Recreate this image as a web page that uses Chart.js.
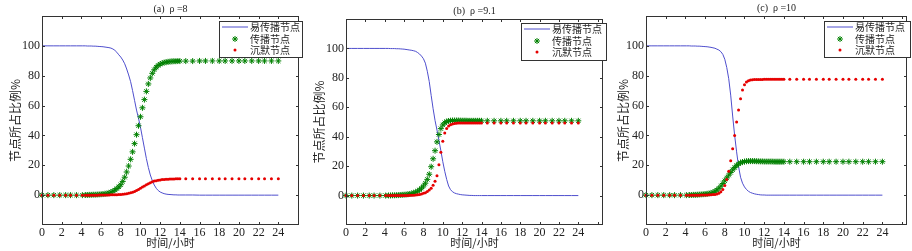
<!DOCTYPE html>
<html>
<head>
<meta charset="utf-8">
<script src="https://cdn.jsdelivr.net/npm/chart.js@4.4.1/dist/chart.umd.min.js"></script>
<style>
html, body { margin: 0; padding: 0; background: #fff; }
#wrap { position: relative; width: 912px; height: 251px; overflow: hidden; }
canvas { position: absolute; top: 0; }
</style>
</head>
<body>
<div id="wrap">
<canvas id="pa" width="304" height="251" style="left:0px"></canvas>
<canvas id="pb" width="304" height="251" style="left:304px"></canvas>
<canvas id="pc" width="304" height="251" style="left:608px"></canvas>
</div>
<script>
// time (hours), shared by all three panels
const T = [0, 0.6, 1.2, 1.8, 2.4, 2.9, 3.5, 4.1,
  4.4, 4.6, 4.8,
  5.0, 5.2, 5.4, 5.6, 5.8,
  6.0, 6.2, 6.4, 6.6, 6.8,
  7.0, 7.2, 7.4, 7.6, 7.8,
  8.0, 8.2, 8.4, 8.6, 8.8,
  9.0, 9.2, 9.4, 9.6, 9.8,
  10.0, 10.2, 10.4, 10.6, 10.8,
  11.0, 11.2, 11.4, 11.6, 11.8,
  12.0, 12.2, 12.4, 12.6, 12.8,
  13.0, 13.2, 13.4, 13.6, 13.8,
  14.0,
  14.6, 15.3, 16.0, 16.6, 17.3, 18.0, 18.6, 19.3, 20.0, 20.6, 21.3, 22.0, 22.6, 23.3, 24.0];

const xTicks = [0, 2, 4, 6, 8, 10, 12, 14, 16, 18, 20, 22, 24];
const yTicks = [0, 20, 40, 60, 80, 100];
const seriesNames = ['易传播节点', '传播节点', '沉默节点'];
const xLabel = '时间/小时';
const yLabel = '节点所占比例%';

// (a) rho = 8
const sA = [100, 100, 100, 100, 100, 100, 100, 100,
  100, 99.9, 99.9,
  99.9, 99.8, 99.8, 99.7, 99.6,
  99.5, 99.4, 99.2, 99.0, 98.8,
  98.5, 97.9, 97.0, 95.7, 94.0,
  92.5, 90.5, 88.0, 84.5, 80.5,
  76.0, 70.0, 63.5, 57.0, 51.5,
  45.5, 38.5, 31.5, 24.5, 18.5,
  13.5, 9.8, 6.8, 4.6, 3.1,
  2.1, 1.5, 1.0, 0.7, 0.5,
  0.4, 0.3, 0.2, 0.2, 0.1,
  0.1,
  0.1, 0.1, 0, 0, 0, 0, 0, 0, 0, 0, 0, 0, 0, 0, 0];
const iA = [0, 0, 0, 0, 0, 0, 0, 0,
  0.1, 0.1, 0.2,
  0.2, 0.3, 0.3, 0.4, 0.5,
  0.6, 0.7, 0.9, 1.1, 1.4,
  2.0, 2.6, 3.4, 4.4, 5.6,
  7.0, 9.2, 12.0, 15.5, 19.5,
  24.0, 29.0, 34.5, 40.5, 46.5,
  52.5, 58.5, 64.0, 69.5, 74.5,
  78.5, 81.6, 84.0, 85.7, 86.9,
  87.8, 88.4, 88.8, 89.1, 89.3,
  89.5, 89.6, 89.7, 89.7, 89.8,
  89.8,
  89.8, 89.8, 89.9, 89.9, 89.9, 89.9, 89.9, 89.9, 89.9, 89.9, 89.9, 89.9, 89.9, 89.9, 89.9];
const rA = [0, 0, 0, 0, 0, 0, 0, 0,
  0, 0, 0,
  0, 0, 0, 0, 0.1,
  0.1, 0.1, 0.1, 0.1, 0.1,
  0.2, 0.2, 0.3, 0.3, 0.4,
  0.5, 0.6, 0.8, 1.0, 1.3,
  1.6, 2.0, 2.5, 3.1, 3.8,
  4.6, 5.4, 6.2, 7.0, 7.7,
  8.3, 8.9, 9.4, 9.7, 10.0,
  10.2, 10.4, 10.5, 10.6, 10.7,
  10.8, 10.8, 10.8, 10.9, 10.9,
  10.9,
  10.9, 11.0, 11.0, 11.0, 11.0, 11.0, 11.0, 11.0, 11.0, 11.0, 11.0, 11.0, 11.0, 11.0, 11.0];

// (b) rho = 9.1
const sB = [100, 100, 100, 100, 100, 100, 100, 100,
  100, 99.9, 99.9,
  99.9, 99.8, 99.8, 99.7, 99.6,
  99.5, 99.3, 99.1, 98.9, 98.7,
  98.4, 98.0, 97.2, 96.2, 94.8,
  93.0, 90.0, 84.5, 77.5, 68.0,
  59.0, 51.0, 44.5, 37.5, 30.5,
  23.0, 16.5, 11.0, 6.5, 4.0,
  2.6, 1.8, 1.3, 1.0, 0.7,
  0.5, 0.4, 0.3, 0.2, 0.1,
  0.1, 0, 0, 0, 0,
  0,
  0, 0, 0, 0, 0, 0, 0, 0, 0, 0, 0, 0, 0, 0, 0];
const iB = [0, 0, 0, 0, 0, 0, 0, 0,
  0.1, 0.1, 0.2,
  0.2, 0.3, 0.3, 0.4, 0.5,
  0.6, 0.7, 0.9, 1.1, 1.4,
  1.8, 2.3, 3.0, 3.9, 5.0,
  6.5, 8.4, 11.0, 14.5, 19.6,
  25.0, 30.5, 36.5, 41.5, 45.5,
  48.0, 49.5, 50.3, 50.7, 50.9,
  51.0, 51.0, 51.0, 51.0, 50.9,
  50.9, 50.9, 50.9, 50.8, 50.8,
  50.8, 50.8, 50.8, 50.8, 50.8,
  50.8,
  50.8, 50.8, 50.8, 50.8, 50.8, 50.8, 50.8, 50.8, 50.8, 50.8, 50.8, 50.8, 50.8, 50.8, 50.8];
const rB = [0, 0, 0, 0, 0, 0, 0, 0,
  0, 0, 0,
  0, 0, 0, 0.1, 0.1,
  0.1, 0.1, 0.1, 0.2, 0.2,
  0.3, 0.4, 0.6, 0.8, 1.1,
  1.5, 2.0, 2.8, 3.8, 5.0,
  7.0, 9.8, 13.5, 21.0, 29.5,
  37.0, 42.5, 45.5, 47.3, 48.2,
  48.7, 49.0, 49.2, 49.3, 49.4,
  49.4, 49.4, 49.4, 49.4, 49.4,
  49.4, 49.4, 49.4, 49.4, 49.4,
  49.4,
  49.4, 49.4, 49.4, 49.4, 49.4, 49.4, 49.4, 49.4, 49.4, 49.4, 49.4, 49.4, 49.4, 49.4, 49.4];

// (c) rho = 10
const sC = [100, 100, 100, 100, 100, 100, 100, 100,
  100, 99.9, 99.9,
  99.9, 99.8, 99.8, 99.7, 99.6,
  99.5, 99.4, 99.2, 99.0, 98.7,
  98.4, 97.8, 97.2, 96.1, 94.3,
  91.0, 85.5, 78.0, 67.0, 53.0,
  40.0, 29.0, 19.0, 12.0, 8.0,
  5.5, 3.8, 2.6, 1.8, 1.3,
  0.9, 0.6, 0.4, 0.2, 0.1,
  0.1, 0, 0, 0, 0,
  0, 0, 0, 0, 0,
  0,
  0, 0, 0, 0, 0, 0, 0, 0, 0, 0, 0, 0, 0, 0, 0];
const iC = [0, 0, 0, 0, 0, 0, 0, 0,
  0.1, 0.1, 0.2,
  0.2, 0.3, 0.4, 0.5, 0.6,
  0.7, 0.9, 1.1, 1.4, 1.8,
  2.6, 3.4, 4.6, 6.0, 7.8,
  9.6, 11.5, 13.4, 15.2, 17.0,
  18.5, 19.9, 20.9, 21.7, 22.2,
  22.5, 22.7, 22.8, 22.8, 22.8,
  22.8, 22.7, 22.7, 22.6, 22.6,
  22.5, 22.5, 22.5, 22.5, 22.5,
  22.4, 22.4, 22.4, 22.4, 22.4,
  22.4,
  22.4, 22.4, 22.4, 22.4, 22.4, 22.4, 22.4, 22.4, 22.4, 22.4, 22.4, 22.4, 22.4, 22.4, 22.4];
const rC = [0, 0, 0, 0, 0, 0, 0, 0,
  0, 0, 0,
  0, 0, 0, 0.1, 0.1,
  0.1, 0.1, 0.2, 0.3, 0.4,
  0.5, 0.8, 1.3, 2.2, 3.8,
  6.5, 10.5, 16.0, 23.0, 31.0,
  40.0, 49.0, 57.0, 64.5, 70.5,
  74.0, 75.8, 76.7, 77.1, 77.3,
  77.4, 77.5, 77.5, 77.5, 77.5,
  77.6, 77.6, 77.6, 77.6, 77.6,
  77.6, 77.6, 77.6, 77.6, 77.6,
  77.6,
  77.6, 77.6, 77.6, 77.6, 77.6, 77.6, 77.6, 77.6, 77.6, 77.6, 77.6, 77.6, 77.6, 77.6, 77.6];

const BLUE = 'rgb(78,78,205)';
const GREEN = 'rgb(0,128,0)';
const RED = 'rgb(230,0,0)';
const CJK = '"Noto Sans CJK SC", sans-serif';
const SERIF = '"Liberation Serif", "DejaVu Serif", serif';

const panels = [
  { id: 'pa', title: '(a)  \u03c1 =8', S: sA, I: iA, R: rA, left: 42, padR: 1, top: 16, xMax: 26.1, titleY: 9, box: [219, 21, 83, 36] },
  { id: 'pb', title: '(b)  \u03c1 =9.1', S: sB, I: iB, R: rB, left: 42, padR: 1, top: 19, xMax: 26.55, titleY: 11, box: [217, 23, 85, 37] },
  { id: 'pc', title: '(c)  \u03c1 =10', S: sC, I: iC, R: rC, left: 38, padR: 2, top: 16, xMax: 26.5, titleY: 8, box: [216, 21, 86, 36] }
];

function drawStar(ctx, x, y, r) {
  const d = r * 0.7;
  ctx.beginPath();
  ctx.moveTo(x - r, y); ctx.lineTo(x + r, y);
  ctx.moveTo(x, y - r); ctx.lineTo(x, y + r);
  ctx.moveTo(x - d, y - d); ctx.lineTo(x + d, y + d);
  ctx.moveTo(x - d, y + d); ctx.lineTo(x + d, y - d);
  ctx.stroke();
}

// frame, inward ticks, titles and boxed legend (MATLAB look)
const decor = {
  id: 'decor',
  afterDraw(chart, args, opts) {
    const ctx = chart.ctx;
    const a = chart.chartArea;
    const xs = chart.scales.x, ys = chart.scales.y;
    ctx.save();
    ctx.strokeStyle = '#333';
    ctx.lineWidth = 1;
    ctx.strokeRect(Math.round(a.left) + 0.5, Math.round(a.top) + 0.5,
      Math.round(a.right - a.left) - 1, Math.round(a.bottom - a.top) - 1);
    ctx.beginPath();
    xTicks.concat([26]).forEach(v => {
      if (v > xs.max) return;
      const px = Math.round(xs.getPixelForValue(v)) + 0.5;
      ctx.moveTo(px, a.bottom); ctx.lineTo(px, a.bottom - 3);
      ctx.moveTo(px, a.top); ctx.lineTo(px, a.top + 3);
    });
    yTicks.forEach(v => {
      const py = Math.round(ys.getPixelForValue(v)) + 0.5;
      ctx.moveTo(a.left, py); ctx.lineTo(a.left + 3, py);
      ctx.moveTo(a.right, py); ctx.lineTo(a.right - 3, py);
    });
    ctx.stroke();

    // title
    ctx.fillStyle = '#222';
    ctx.textAlign = 'center';
    ctx.textBaseline = 'middle';
    ctx.font = '10px ' + SERIF;
    ctx.fillText(opts.title, (a.left + a.right) / 2, opts.titleY);

    // axis titles
    ctx.font = '11px ' + CJK;
    ctx.fillText(xLabel, (a.left + a.right) / 2, 243);
    ctx.save();
    ctx.translate(15, (a.top + a.bottom) / 2);
    ctx.rotate(-Math.PI / 2);
    ctx.font = '12px ' + CJK;
    ctx.fillText(yLabel, 0, 0);
    ctx.restore();

    // legend box
    const [bx, by, bw, bh] = opts.box;
    ctx.fillStyle = '#fff';
    ctx.fillRect(bx, by, bw, bh);
    ctx.strokeStyle = '#333';
    ctx.strokeRect(bx + 0.5, by + 0.5, bw, bh);
    const rows = [by + 6, by + 18, by + 29];
    ctx.strokeStyle = BLUE;
    ctx.beginPath();
    ctx.moveTo(bx + 3, rows[0]); ctx.lineTo(bx + 29, rows[0]);
    ctx.stroke();
    ctx.strokeStyle = GREEN;
    ctx.lineWidth = 1;
    drawStar(ctx, bx + 16, rows[1], 3);
    ctx.fillStyle = RED;
    ctx.beginPath();
    ctx.arc(bx + 16, rows[2], 1.5, 0, Math.PI * 2);
    ctx.fill();
    ctx.fillStyle = '#222';
    ctx.textAlign = 'left';
    ctx.font = '10px ' + CJK;
    seriesNames.forEach((n, k) => ctx.fillText(n, bx + 31, rows[k]));
    ctx.restore();
  }
};

function pts(vals) {
  return T.map((t, k) => ({ x: t, y: vals[k] }));
}

panels.forEach(p => {
  new Chart(document.getElementById(p.id), {
    type: 'scatter',
    data: {
      datasets: [
        { label: seriesNames[2], data: pts(p.R), order: 0, clip: false,
          pointStyle: 'circle', pointRadius: 1.5, backgroundColor: RED, borderWidth: 0 },
        { label: seriesNames[1], data: pts(p.I), order: 1, clip: false,
          pointStyle: 'star', pointRadius: 3, borderColor: GREEN, backgroundColor: GREEN, borderWidth: 1 },
        { label: seriesNames[0], data: pts(p.S), order: 2, showLine: true,
          pointRadius: 0, borderColor: BLUE, borderWidth: 1 }
      ]
    },
    options: {
      responsive: false,
      animation: false,
      devicePixelRatio: 1,
      layout: { padding: { left: 0, right: p.padR, top: p.top, bottom: 0 } },
      plugins: {
        legend: { display: false },
        tooltip: { enabled: false },
        decor: { title: p.title, titleY: p.titleY, box: p.box }
      },
      scales: {
        x: {
          type: 'linear', min: 0, max: p.xMax,
          grid: { display: false, drawTicks: false },
          border: { display: false },
          ticks: {
            stepSize: 2, autoSkip: false, maxRotation: 0, padding: 1,
            color: '#222', font: { family: SERIF, size: 12 },
            callback: v => xTicks.includes(v) ? v : ''
          },
          afterFit: s => { s.height = 26; }
        },
        y: {
          min: -20, max: 120,
          grid: { display: false, drawTicks: false },
          border: { display: false },
          ticks: {
            stepSize: 20, padding: 2,
            color: '#222', font: { family: SERIF, size: 12 },
            callback: v => yTicks.includes(v) ? v : ''
          },
          afterFit: s => { s.width = p.left; }
        }
      }
    },
    plugins: [decor]
  });
});
</script>
</body>
</html>
